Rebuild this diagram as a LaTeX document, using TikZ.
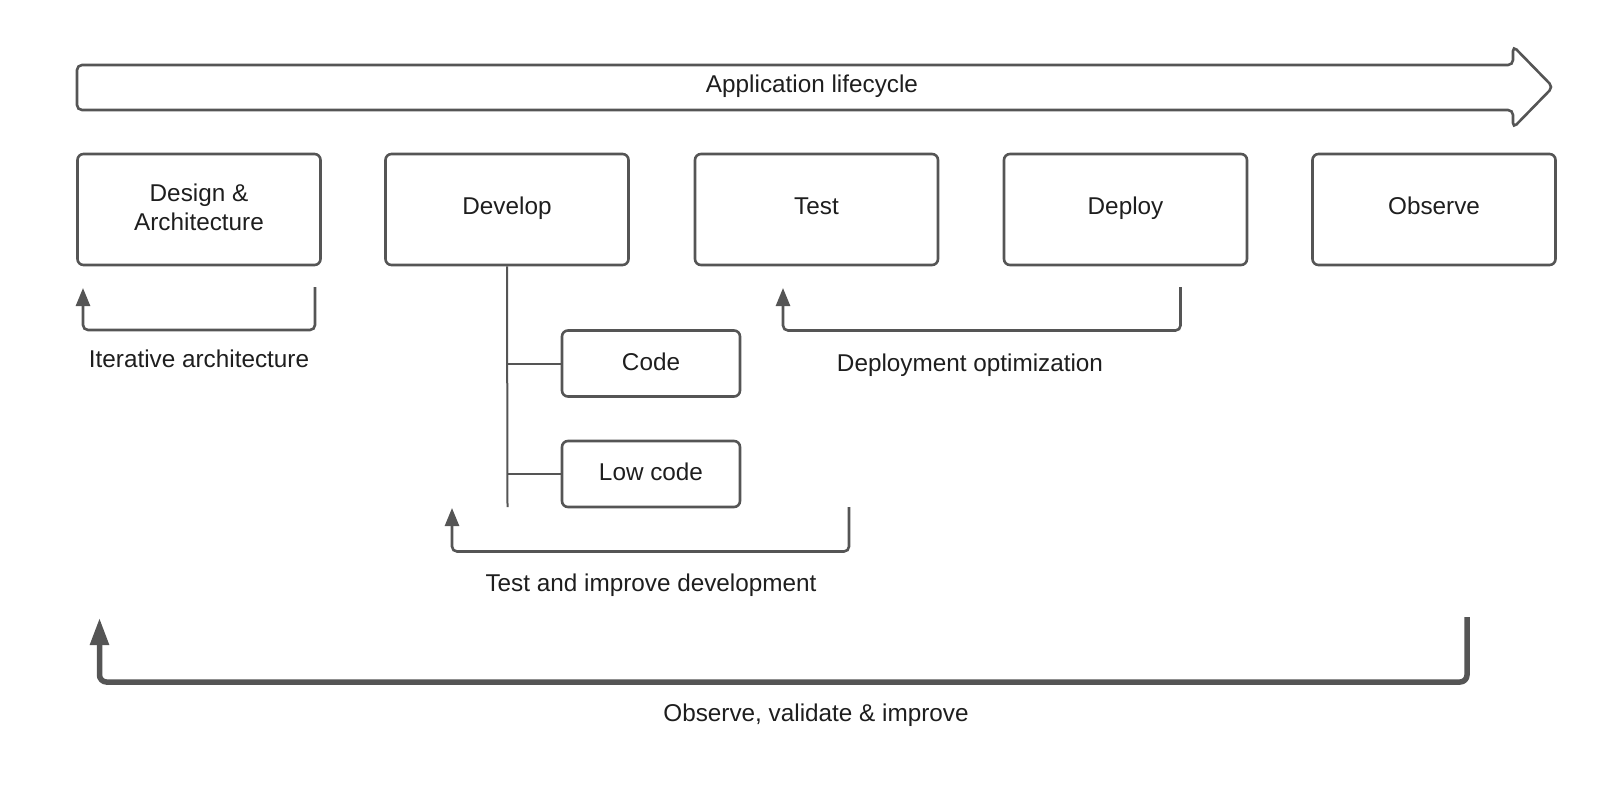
\documentclass[tikz,border=0pt]{standalone}
\usepackage{fontspec}
\setmainfont{Liberation Sans}
\usetikzlibrary{arrows.meta}
\definecolor{ln}{RGB}{85,85,85}
\definecolor{tx}{RGB}{30,30,30}
\begin{document}
\begin{tikzpicture}[x=1pt,y=-1pt,
  box/.style={draw=ln,line width=2.6pt,rounded corners=6pt,minimum width=243pt,minimum height=111pt,align=center,text=tx,font=\fontsize{24.3}{29}\selectfont,inner sep=0pt},
  onel/.style={text height=12pt,text depth=2.4pt},
  sub/.style={draw=ln,line width=2.6pt,rounded corners=6pt,minimum width=178pt,minimum height=66pt,align=center,text=tx,font=\fontsize{24.3}{29}\selectfont,inner sep=0pt,text height=14.5pt,text depth=1pt},
  lbl/.style={text=tx,font=\fontsize{24.3}{29}\selectfont,inner sep=0pt,anchor=base},
  fb/.style={draw=ln,line width=2.6pt,rounded corners=5pt,-{Triangle[width=14pt,length=18pt]}},
  bigfb/.style={draw=ln,line width=5.5pt,rounded corners=7pt,-{Triangle[width=18pt,length=27pt]}},
  tree/.style={draw=ln,line width=2pt}]
\useasboundingbox (0,0) rectangle (1600,798);
% lifecycle arrow
\draw[ln,line width=2.6pt,rounded corners=5pt] (77,65) -- (1513,65) -- (1513,46) -- (1553,87) -- (1513,128) -- (1513,110) -- (77,110) -- cycle;
\node[lbl] (life) at (812,92.7) {Application lifecycle};
% phase boxes
\node[box,text depth=4pt] (design) at (199,209.5) {Design \&\\Architecture};
\node[box,onel] (develop) at (507,209.5) {Develop};
\node[box,onel] (test) at (816.5,209.5) {Test};
\node[box,onel] (deploy) at (1125.5,209.5) {Deploy};
\node[box,onel] (observe) at (1434,209.5) {Observe};
% develop sub-boxes
\node[sub] (code) at (651,363.5) {Code};
\node[sub] (lowcode) at (651,474) {Low code};
\coordinate (treeend) at (507.5,507);
\draw[tree] (develop.south) -- (treeend);
\draw[tree] (develop.south |- code.west) -- (code.west);
\draw[tree] (develop.south |- lowcode.west) -- (lowcode.west);
% iterative architecture
\coordinate (ia1) at (315,287);
\coordinate (iam) at (200,330);
\coordinate (ia2) at (83,288);
\draw[fb] (ia1) |- (iam) -| (ia2);
\node[lbl] (ialbl) at (199,367.7) {Iterative architecture};
% deployment optimization
\coordinate (do1) at (1180.5,287);
\coordinate (dom) at (980,330.5);
\coordinate (do2) at (783,288);
\draw[fb] (do1) |- (dom) -| (do2);
\node[lbl] (dolbl) at (970,371) {Deployment optimization};
% test and improve development
\coordinate (ti1) at (849,507);
\coordinate (tim) at (650,551.5);
\coordinate (ti2) at (452,508);
\draw[fb] (ti1) |- (tim) -| (ti2);
\node[lbl] (tilbl) at (651,591.7) {Test and improve development};
% observe validate improve
\coordinate (ov1) at (1467,617);
\coordinate (ovm) at (800,682);
\coordinate (ov2) at (99.5,618);
\draw[bigfb] (ov1) |- (ovm) -| (ov2);
\node[lbl] (ovlbl) at (816,721.7) {Observe, validate \& improve};
\end{tikzpicture}
\end{document}
